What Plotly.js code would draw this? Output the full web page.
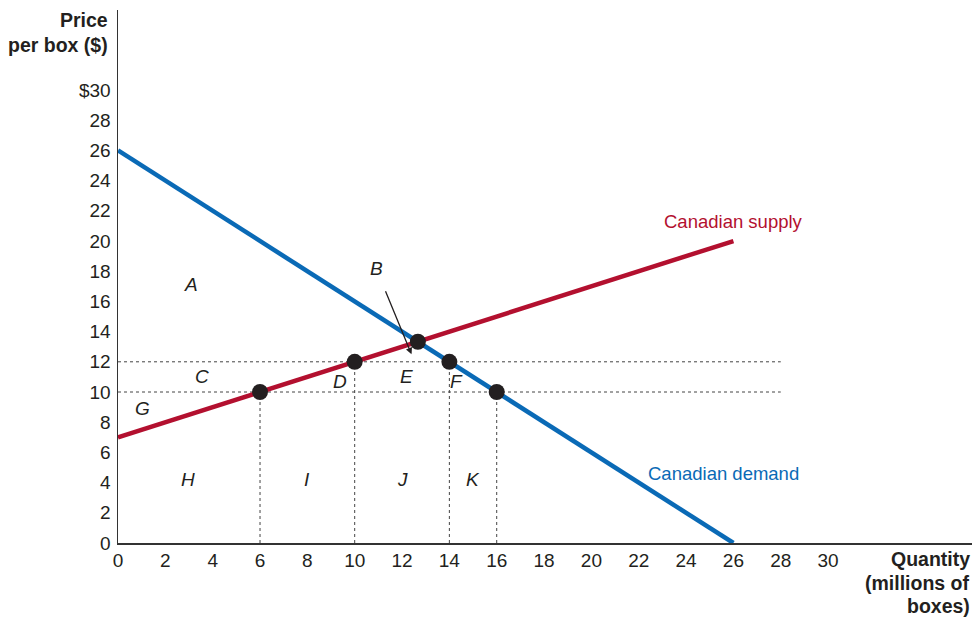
<!DOCTYPE html>
<html>
<head>
<meta charset="utf-8">
<script src="https://cdn.plot.ly/plotly-3.0.1.min.js"></script>
<style>body{margin:0;background:#fff}#chart{width:974px;height:620px}</style>
</head>
<body>
<div id="chart"></div>
<script>
// Data
const demandQ = [0, 26];
const demandP = [26, 0];
const supplyQ = [0, 26];
const supplyP = [7, 20];
const pointQ = [6, 10, 12.67, 14, 16];
const pointP = [10, 12, 13.33, 12, 10];
const hLinePrices = [12, 10];
const hLineEnd = 28;
const vLineQ = [6, 10, 14, 16];
const vLineTop = [10, 12, 12, 10];
const areaLabels = ['A', 'C', 'D', 'E', 'F', 'G', 'H', 'I', 'J', 'K'];
const areaLabelQ = [3.1, 3.55, 9.4, 12.2, 14.3, 1.05, 2.95, 8.0, 12.0, 15.0];
const areaLabelP = [17.1, 11.0, 10.7, 11.05, 10.7, 8.9, 4.2, 4.2, 4.2, 4.2];
const xTicks = [0, 2, 4, 6, 8, 10, 12, 14, 16, 18, 20, 22, 24, 26, 28, 30];
const yTicks = [0, 2, 4, 6, 8, 10, 12, 14, 16, 18, 20, 22, 24, 26, 28, 30];
const yTickText = ['0','2','4','6','8','10','12','14','16','18','20','22','24','26','28','$30'];
const yTitleLines = ['Price', 'per box ($)'];
const xTitleLines = ['Quantity', '(millions of', 'boxes)'];

const RED = '#B3102F';
const BLUE = '#0A6AB6';
const INK = '#231F20';
const FONT = 'Liberation Sans, Arial, Helvetica, sans-serif';

const traces = [];
hLinePrices.forEach(p => traces.push({
  x: [0, hLineEnd], y: [p, p], mode: 'lines', hoverinfo: 'skip',
  line: {color: '#444', width: 1, dash: 'dot'}
}));
vLineQ.forEach((q, i) => traces.push({
  x: [q, q], y: [0, vLineTop[i]], mode: 'lines', hoverinfo: 'skip',
  line: {color: '#444', width: 1, dash: 'dot'}
}));
traces.push({x: supplyQ, y: supplyP, mode: 'lines', line: {color: RED, width: 4.5}});
traces.push({x: demandQ, y: demandP, mode: 'lines', line: {color: BLUE, width: 4.5}});
traces.push({x: pointQ, y: pointP, mode: 'markers', marker: {color: INK, size: 16}});

const annotations = areaLabels.map((t, i) => ({
  x: areaLabelQ[i], y: areaLabelP[i], text: '<i>' + t + '</i>', showarrow: false,
  font: {family: FONT, size: 19, color: INK}
}));
annotations.push({
  x: 12.4, y: 12.5, ax: 10.9, ay: 18.2, axref: 'x', ayref: 'y',
  text: '<i>B</i>', showarrow: true, arrowhead: 2, arrowsize: 1, arrowwidth: 1.3,
  arrowcolor: INK, standoff: 0, startstandoff: 12,
  font: {family: FONT, size: 19, color: INK}
});
annotations.push({x: 26, y: 21.3, text: 'Canadian supply', showarrow: false,
  font: {family: FONT, size: 18.5, color: RED}});
annotations.push({x: 25.6, y: 4.6, text: 'Canadian demand', showarrow: false,
  font: {family: FONT, size: 18.5, color: BLUE}});
yTitleLines.forEach((t, i) => annotations.push({
  xref: 'paper', yref: 'paper', x: -0.0094, y: 1.0 + (3 - i * 25) / 533, xanchor: 'right', yanchor: 'top',
  text: '<b>' + t + '</b>', showarrow: false, font: {family: FONT, size: 19.5, color: INK}
}));
xTitleLines.forEach((t, i) => annotations.push({
  xref: 'paper', yref: 'paper', x: 1.0, y: -(3 + i * 23.5) / 533, xanchor: 'right', yanchor: 'top',
  text: '<b>' + t + '</b>', showarrow: false, font: {family: FONT, size: 19.5, color: INK}
}));

const layout = {
  width: 974, height: 620,
  margin: {l: 118, r: 2, t: 10, b: 77},
  paper_bgcolor: '#fff', plot_bgcolor: '#fff',
  showlegend: false,
  font: {family: FONT, size: 19, color: INK},
  xaxis: {range: [0, 36.08], tickvals: xTicks, ticktext: xTicks.map(String),
    tickfont: {family: FONT, size: 19, color: INK},
    showgrid: false, zeroline: false, showline: true, linecolor: '#333', linewidth: 1.5,
    ticks: '', ticklabelstandoff: 0, fixedrange: true},
  yaxis: {range: [0, 35.3], tickvals: yTicks, ticktext: yTickText,
    tickfont: {family: FONT, size: 19, color: INK},
    showgrid: false, zeroline: false, showline: true, linecolor: '#333', linewidth: 1.5,
    ticks: '', ticklabelstandoff: 2, fixedrange: true},
  annotations: annotations
};
Plotly.newPlot('chart', traces, layout, {displayModeBar: false, staticPlot: true});
</script>
</body>
</html>
